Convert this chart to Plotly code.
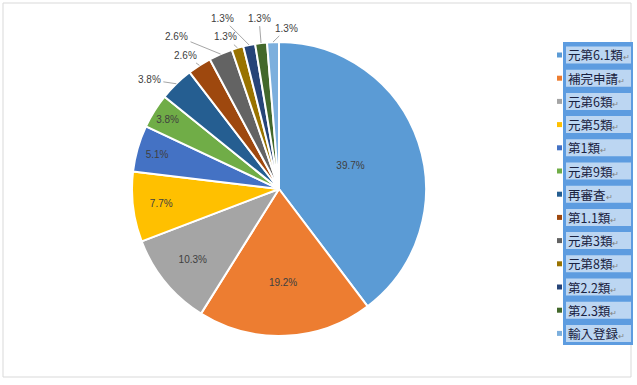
import math
import plotly.graph_objects as go

labels = ["元第6.1類", "補完申請", "元第6類", "元第5類", "第1類", "元第9類", "再審査",
          "第1.1類", "元第3類", "元第8類", "第2.2類", "第2.3類", "輸入登録"]
values = [39.7, 19.2, 10.3, 7.7, 5.1, 3.8, 3.8, 2.6, 2.6, 1.3, 1.3, 1.3, 1.3]
colors = ["#5B9BD5", "#ED7D31", "#A5A5A5", "#FFC000", "#4472C4", "#70AD47", "#255E91",
          "#9E480E", "#636363", "#997300", "#264478", "#43682B", "#7CAFDD"]
n_inside = 6

W, H = 637, 385


def px(x):
    return x / W


def py(y):
    return 1 - y / H


cx, cy, r = 279, 189, 147

texts = [f"{v:.1f}%" if i < n_inside else "" for i, v in enumerate(values)]

fig = go.Figure(go.Pie(
    labels=labels, values=values, sort=False, direction="clockwise", rotation=0,
    marker=dict(colors=colors, line=dict(color="white", width=2)),
    text=texts, textinfo="text", textposition="inside",
    textfont=dict(family="Liberation Sans", size=10, color="#404040"),
    insidetextorientation="horizontal",
    domain=dict(x=[px(cx - r), px(cx + r)], y=[py(cy + r), py(cy - r)]),
    showlegend=False, hoverinfo="label+percent",
))

# outside labels: offsets (pixels) of label centre from the slice's outer edge midpoint
label_offsets = {6: (-27, -4), 7: (-14, -10), 8: (-44, -18), 9: (-12, -11),
                 10: (-27, -27), 11: (-2, -25), 12: (14, -14)}
annotations = []
total = sum(values)
cum = 0.0
for i, v in enumerate(values):
    mid = (cum + v / 2) / total * 2 * math.pi
    cum += v
    if i < n_inside:
        continue
    ex = cx + r * math.sin(mid)
    ey = cy - r * math.cos(mid)
    dx, dy = label_offsets[i]
    annotations.append(dict(x=px(ex), y=py(ey), xref="paper", yref="paper",
                            ax=dx, ay=dy, text=f"{v:.1f}%", showarrow=True,
                            arrowhead=0, arrowwidth=1, arrowcolor="#A6A6A6",
                            standoff=0, startstandoff=1,
                            font=dict(family="Liberation Sans", size=10, color="#404040")))

shapes = [dict(type="rect", xref="paper", yref="paper",
               x0=px(3), x1=px(631), y0=py(377), y1=py(3),
               line=dict(color="#D9D9D9", width=1), fillcolor="rgba(0,0,0,0)", layer="below")]
# legend selection highlight
shapes.append(dict(type="rect", xref="paper", yref="paper",
                   x0=px(563), x1=px(633), y0=py(345), y1=py(42),
                   line=dict(width=0), fillcolor="#5D9CE0", layer="below"))
row0, step = 55, 23.2
for i, (lab, col) in enumerate(zip(labels, colors)):
    yc = row0 + i * step
    shapes.append(dict(type="rect", xref="paper", yref="paper",
                       x0=px(566), x1=px(631), y0=py(yc + 8.5), y1=py(yc - 8.5),
                       line=dict(width=0), fillcolor="#BCD6F2", layer="below"))
    shapes.append(dict(type="rect", xref="paper", yref="paper",
                       x0=px(557), x1=px(562), y0=py(yc + 2.5), y1=py(yc - 2.5),
                       line=dict(width=0), fillcolor=col, layer="above"))
    annotations.append(dict(x=px(566), y=py(yc), xref="paper", yref="paper",
                            xanchor="left", yanchor="middle", showarrow=False,
                            text=lab + "<span style='font-size:8px;color:#7F7F7F'>↵</span>",
                            font=dict(family="Noto Sans CJK JP", size=12.5, color="#1A2240")))

fig.update_layout(width=W, height=H,
                  margin=dict(l=0, r=0, t=0, b=0, pad=0, autoexpand=False),
                  paper_bgcolor="white", plot_bgcolor="white",
                  shapes=shapes, annotations=annotations)
fig.write_html("out.html", config={"displayModeBar": False},
               post_script="document.body.style.margin='0';")
